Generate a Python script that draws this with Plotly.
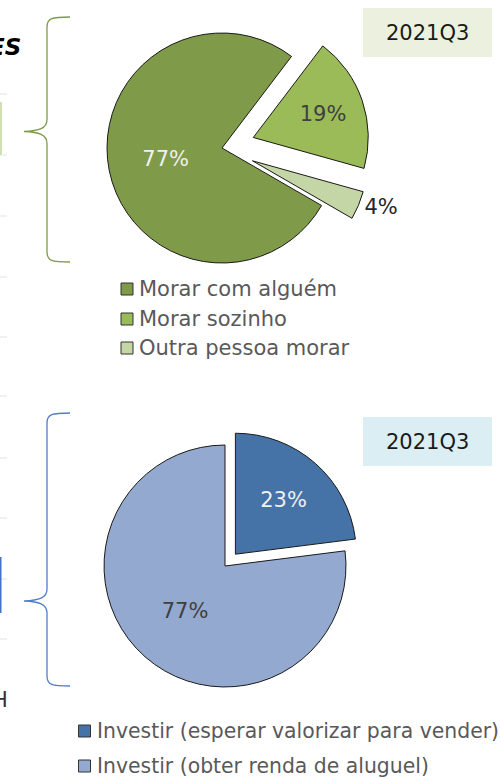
import plotly.graph_objects as go

W, H = 500, 778
FONT = "DejaVu Sans"

# ---- data ----
top_labels = ["Morar com alguém", "Morar sozinho", "Outra pessoa morar"]
top_values = [77, 19, 4]
top_colors = ["#7F9A49", "#9BBB59", "#C4D6A6"]
top_text_colors = ["#F0F0F0", "#404040", "#262626"]
top_period = "2021Q3"

bot_labels = ["Investir (esperar valorizar para vender)", "Investir (obter renda de aluguel)"]
bot_values = [23, 77]
bot_colors = ["#4572A7", "#94A9CF"]
bot_text_colors = ["#F0F0F0", "#404040"]
bot_period = "2021Q3"


def X(x):
    return x / W


def Y(y):
    return 1 - y / H


fig = go.Figure()

fig.add_trace(go.Pie(
    labels=top_labels, values=top_values, sort=False, direction="clockwise",
    rotation=120, pull=[0, 0.287, 0.287], automargin=False,
    marker=dict(colors=top_colors, line=dict(color="#1A1A1A", width=1)),
    texttemplate="%{value}%", textposition=["inside", "inside", "outside"],
    insidetextorientation="horizontal",
    textfont=dict(family=FONT, size=21, color=top_text_colors),
    domain=dict(x=[X(74), X(370)], y=[Y(296), Y(0)]),
    showlegend=False, hoverinfo="label+percent",
))

fig.add_trace(go.Pie(
    labels=bot_labels, values=bot_values, sort=False, direction="clockwise",
    rotation=0, pull=[0.13, 0], automargin=False,
    marker=dict(colors=bot_colors, line=dict(color="#1A1A1A", width=1)),
    texttemplate="%{value}%", textposition="inside",
    insidetextorientation="horizontal",
    textfont=dict(family=FONT, size=21, color=bot_text_colors),
    domain=dict(x=[X(88.3), X(361.7)], y=[Y(702.7), Y(429.3)]),
    showlegend=False, hoverinfo="label+percent",
))

shapes = []
annotations = []


def brace(x_end, x_mid, x_tip, y_top, y_tip, y_bot, color):
    p = (
        f"M {X(x_end)},{Y(y_top)} "
        f"C {X(x_mid+5)},{Y(y_top)} {X(x_mid)},{Y(y_top+1)} {X(x_mid)},{Y(y_top+10)} "
        f"L {X(x_mid)},{Y(y_tip-12)} "
        f"C {X(x_mid)},{Y(y_tip-3)} {X(x_tip+15)},{Y(y_tip-0.5)} {X(x_tip)},{Y(y_tip)} "
        f"C {X(x_tip+15)},{Y(y_tip+0.5)} {X(x_mid)},{Y(y_tip+3)} {X(x_mid)},{Y(y_tip+12)} "
        f"L {X(x_mid)},{Y(y_bot-10)} "
        f"C {X(x_mid)},{Y(y_bot-1)} {X(x_mid+5)},{Y(y_bot)} {X(x_end)},{Y(y_bot)}"
    )
    shapes.append(dict(type="path", xref="paper", yref="paper", path=p,
                       line=dict(color=color, width=1.3)))


brace(70, 47, 24, 17, 131.5, 262, "#7F9A49")
brace(70, 47, 24, 413, 601, 686, "#4F7FC8")

# period boxes
for (y0, y1, fill, txt) in [(8, 57, "#EBF1DE", top_period), (417, 466, "#DAEEF3", bot_period)]:
    shapes.append(dict(type="rect", xref="paper", yref="paper", x0=X(363), x1=X(492),
                       y0=Y(y1), y1=Y(y0), fillcolor=fill, line=dict(width=0), layer="below"))
    annotations.append(dict(text=txt, xref="paper", yref="paper", x=X(427.5), y=Y((y0 + y1) / 2),
                            showarrow=False, xanchor="center", yanchor="middle",
                            font=dict(family=FONT, size=21, color="#1A1A1A")))


# manual legends
def legend(labels, colors, x_mark, y_rows, size):
    for lab, col, yy in zip(labels, colors, y_rows):
        shapes.append(dict(type="rect", xref="paper", yref="paper",
                           x0=X(x_mark), x1=X(x_mark + 12), y0=Y(yy + 6), y1=Y(yy - 6),
                           fillcolor=col, line=dict(color="#333333", width=1)))
        annotations.append(dict(text=lab, xref="paper", yref="paper", x=X(x_mark + 16), y=Y(yy),
                                showarrow=False, xanchor="left", yanchor="middle",
                                font=dict(family=FONT, size=size, color="#595959")))


legend(top_labels, top_colors, 121, [289, 319, 348], 21)
legend(bot_labels, bot_colors, 78.5, [731, 766], 20.4)

# partial neighbouring elements at the left edge
for yy in [94, 155, 216, 277, 337, 396, 458, 518, 579, 639]:
    shapes.append(dict(type="line", xref="paper", yref="paper", x0=X(0), x1=X(7),
                       y0=Y(yy), y1=Y(yy), line=dict(color="#E3E3E3", width=1)))
shapes.append(dict(type="rect", xref="paper", yref="paper", x0=X(-20), x1=X(1),
                   y0=Y(154), y1=Y(103), line=dict(color="#C4D79B", width=1.5)))
shapes.append(dict(type="rect", xref="paper", yref="paper", x0=X(-20), x1=X(0.5),
                   y0=Y(612), y1=Y(558), line=dict(color="#4472C4", width=2)))
annotations.append(dict(text="<b><i>ES</i></b>", xref="paper", yref="paper", x=X(23), y=Y(47),
                        showarrow=False, xanchor="right", yanchor="middle",
                        font=dict(family=FONT, size=23, color="#000000")))
annotations.append(dict(text="H", xref="paper", yref="paper", x=X(9.5), y=Y(700),
                        showarrow=False, xanchor="right", yanchor="middle",
                        font=dict(family=FONT, size=21, color="#333333")))

fig.update_layout(
    width=W, height=H, margin=dict(l=0, r=0, t=0, b=0),
    paper_bgcolor="white", plot_bgcolor="white",
    shapes=shapes, annotations=annotations, showlegend=False,
)

fig.write_html("out.html", config=dict(displayModeBar=False),
               post_script="document.body.style.margin='0';")
